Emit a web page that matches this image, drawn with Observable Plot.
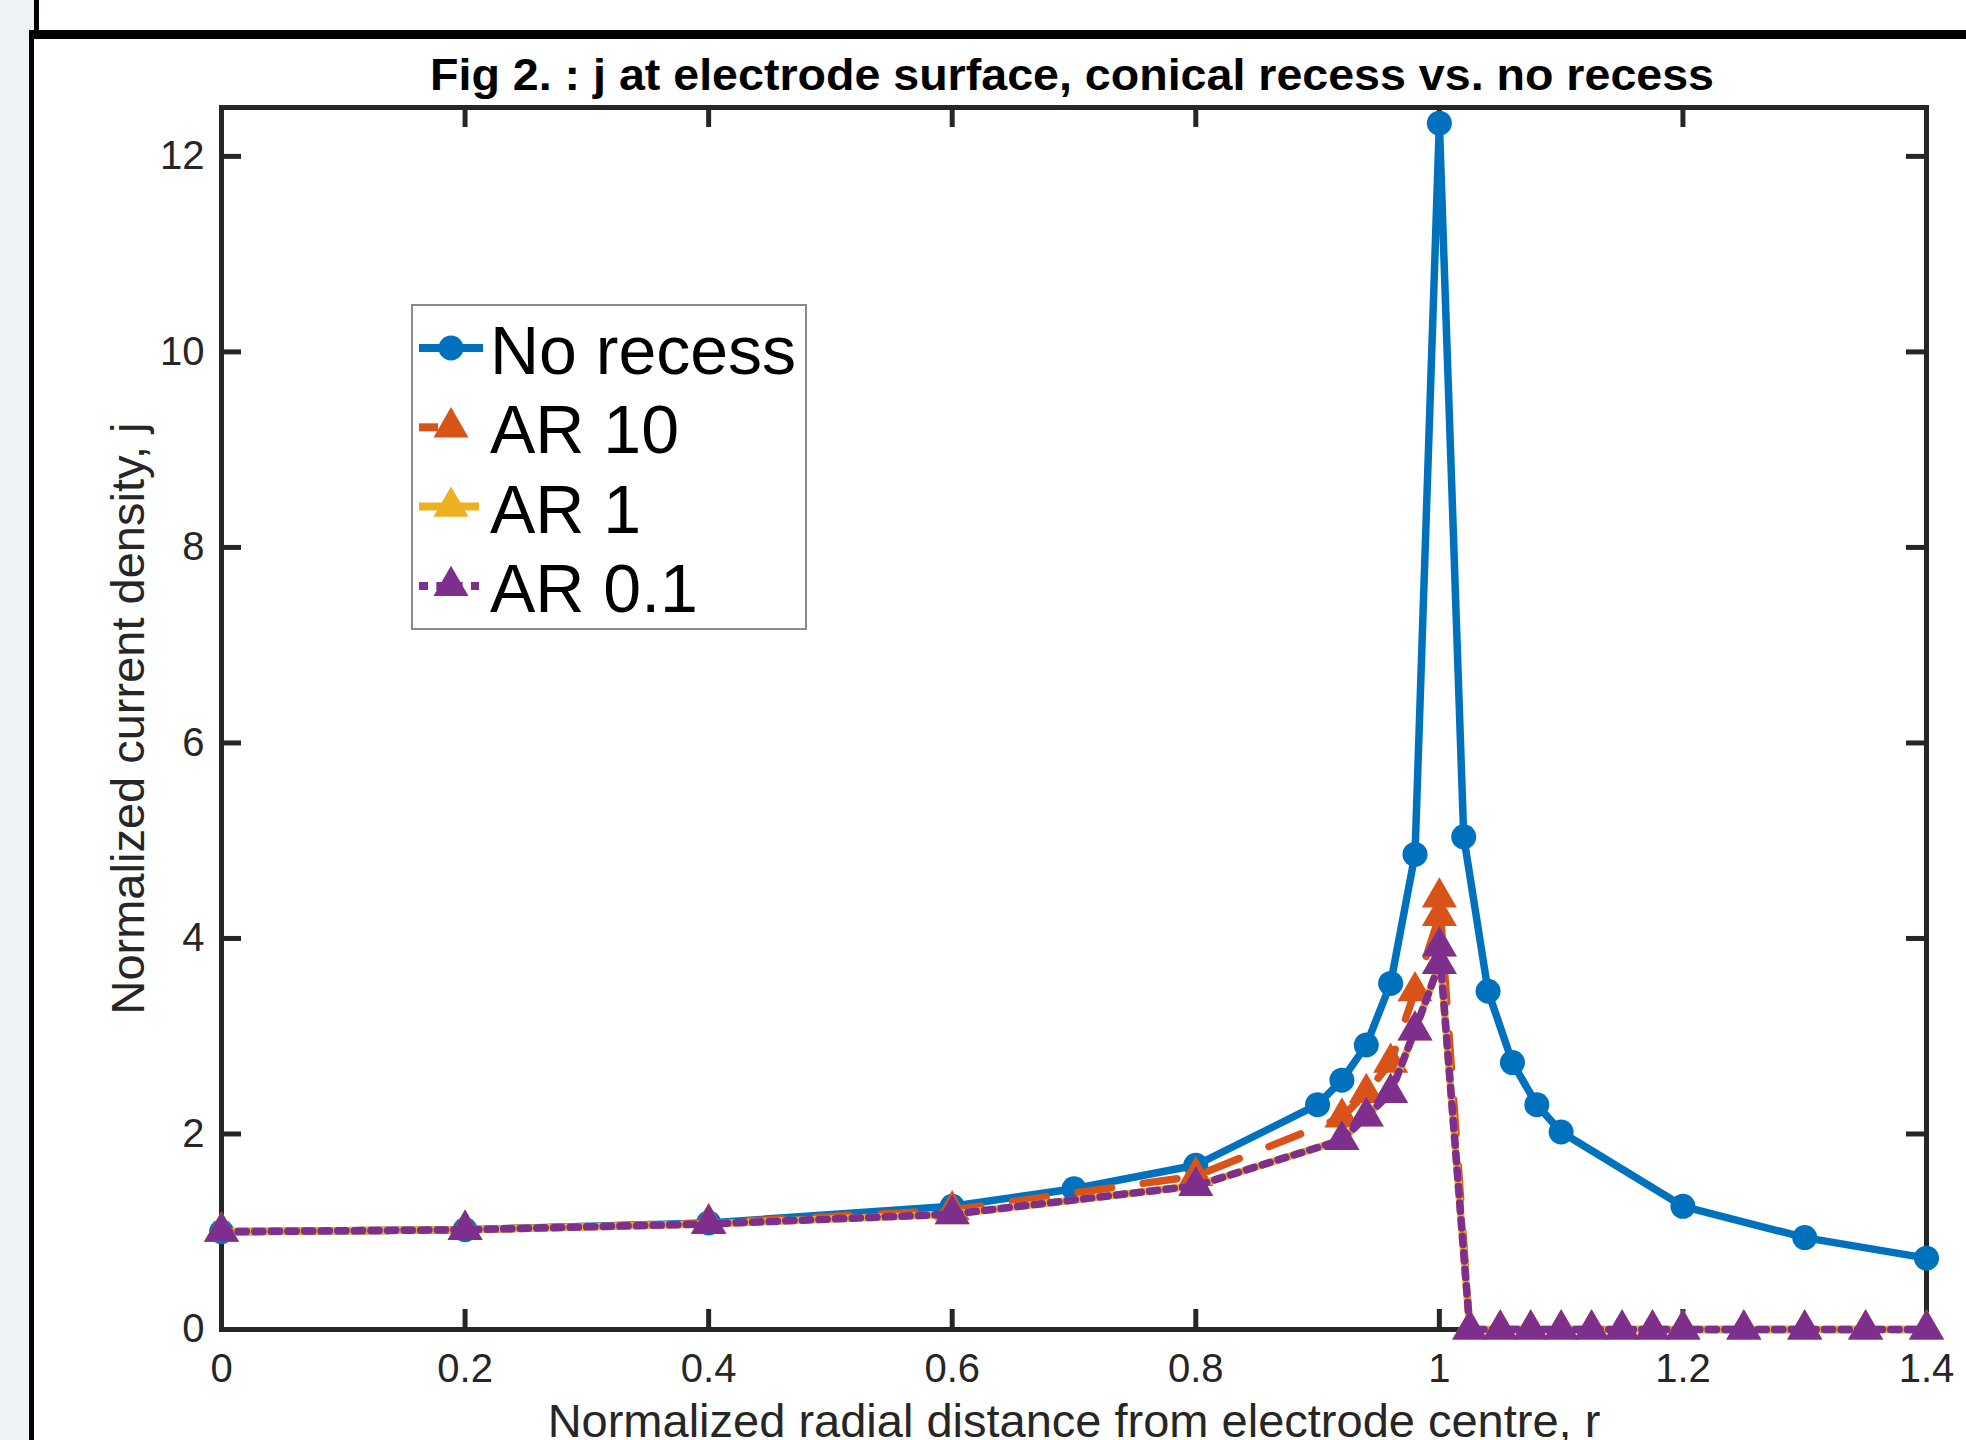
<!DOCTYPE html>
<html><head><meta charset="utf-8">
<script src="https://cdn.jsdelivr.net/npm/d3@7"></script>
<script src="https://cdn.jsdelivr.net/npm/@observablehq/plot@0.6"></script>
<style>
html,body{margin:0;padding:0;}
body{width:1966px;height:1440px;overflow:hidden;background:#fff;position:relative;font-family:"Liberation Sans",Arial,Helvetica,sans-serif;}
.abs{position:absolute;}
</style></head><body>
<div class="abs" style="left:0;top:0;width:34px;height:34px;background:#eef2f7"></div>
<div class="abs" style="left:0;top:0;width:29px;height:1440px;background:#eef2f7"></div>
<div class="abs" style="left:34px;top:0;width:5px;height:34px;background:#000"></div>
<div class="abs" style="left:29px;top:30px;width:1937px;height:9px;background:#000"></div>
<div class="abs" style="left:29px;top:34px;width:5px;height:1406px;background:#000"></div>
<div id="chart" class="abs" style="left:40px;top:40px"></div>
<div id="title" class="abs" style="left:0;top:0"></div>
<div id="legend" class="abs" style="left:411px;top:304px"></div>
<script>
// ---- data ----
const seriesNames = ["No recess", "AR 10", "AR 1", "AR 0.1"];
const seriesColors = ["#0072BD", "#D95319", "#EDB120", "#7E2F8E"];

const rNoRecess = [0, 0.2, 0.4, 0.6, 0.7, 0.8, 0.9, 0.92, 0.94, 0.96, 0.98, 1.0, 1.02, 1.04, 1.06, 1.08, 1.1, 1.2, 1.3, 1.4];
const jNoRecess = [1.0, 1.02, 1.09, 1.26, 1.44, 1.68, 2.30, 2.55, 2.91, 3.54, 4.86, 12.34, 5.04, 3.46, 2.73, 2.30, 2.02, 1.26, 0.94, 0.73];

const rAR = [0, 0.2, 0.4, 0.6, 0.8, 0.92, 0.94, 0.96, 0.98, 1.0, 1.0, 1.025, 1.05, 1.075, 1.1, 1.125, 1.15, 1.175, 1.2, 1.25, 1.3, 1.35, 1.4];
const jAR10 = [1.0, 1.02, 1.09, 1.22, 1.57, 2.17, 2.42, 2.73, 3.46, 4.23, 4.42, 0, 0, 0, 0, 0, 0, 0, 0, 0, 0, 0, 0];
const jAR1  = [1.0, 1.02, 1.08, 1.18, 1.47, 1.94, 2.18, 2.42, 3.06, 3.74, 3.92, 0, 0, 0, 0, 0, 0, 0, 0, 0, 0, 0, 0];
const jAR01 = [1.0, 1.02, 1.08, 1.18, 1.47, 1.94, 2.18, 2.42, 3.06, 3.74, 3.92, 0, 0, 0, 0, 0, 0, 0, 0, 0, 0, 0, 0];

const xTicks = [0, 0.2, 0.4, 0.6, 0.8, 1, 1.2, 1.4];
const yTicks = [0, 2, 4, 6, 8, 10, 12];

const titleText = "Fig 2. : j at electrode surface, conical recess vs. no recess";
const xLabel = "Normalized radial distance from electrode centre, r";
const yLabel = "Normalized current density, j";

// ---- chart ----
const FONT = '"Liberation Sans", Arial, Helvetica, sans-serif';
const W = 1926, H = 1400, mL = 181, mT = 67, mR = 40, mB = 111;
const plotW = W - mL - mR, plotH = H - mT - mB;
const tickLen = 20, axisColor = "#262626", axisW = 5;
const pts = (xs, ys) => xs.map((x, i) => ({x, y: ys[i]}));
const lw = 7.5;
const triR = 13, circR = 12.5;

const dNo = pts(rNoRecess, jNoRecess);
const d10 = pts(rAR, jAR10);
const d1 = pts(rAR, jAR1);
const d01 = pts(rAR, jAR01);

const chart = Plot.plot({
  width: W, height: H,
  marginLeft: mL, marginRight: mR, marginTop: mT, marginBottom: mB,
  x: {domain: [0, 1.4]},
  y: {domain: [0, 12.5]},
  style: {fontFamily: FONT, fontSize: "40px", color: axisColor, background: "transparent", overflow: "visible"},
  marks: [
    Plot.frame({stroke: axisColor, strokeWidth: axisW}),
    Plot.tickX(xTicks, {x: d => d, stroke: axisColor, strokeWidth: axisW, insetTop: plotH - tickLen}),
    Plot.tickX(xTicks, {x: d => d, stroke: axisColor, strokeWidth: axisW, insetBottom: plotH - tickLen}),
    Plot.tickY(yTicks, {y: d => d, stroke: axisColor, strokeWidth: axisW, insetRight: plotW - tickLen}),
    Plot.tickY(yTicks, {y: d => d, stroke: axisColor, strokeWidth: axisW, insetLeft: plotW - tickLen}),
    Plot.axisX({ticks: xTicks, tickSize: 0, tickPadding: 24, tickFormat: d => String(d), label: null, fontSize: 40, fill: axisColor}),
    Plot.axisY({ticks: yTicks, tickSize: 0, tickPadding: 17, tickFormat: d => String(d), label: null, fontSize: 40, fill: axisColor}),
    Plot.text([xLabel], {text: d => d, frameAnchor: "bottom", dy: 107, lineAnchor: "bottom", fontSize: 47, fill: axisColor}),
    Plot.text([yLabel], {text: d => d, frameAnchor: "left", rotate: -90, dx: -78, lineAnchor: "bottom", textAnchor: "middle", fontSize: 47, fill: axisColor}),

    Plot.line(dNo, {x: "x", y: "y", stroke: seriesColors[0], strokeWidth: lw, strokeLinejoin: "round"}),
    Plot.dot(dNo, {x: "x", y: "y", r: circR, fill: seriesColors[0]}),
    Plot.line(d10, {x: "x", y: "y", stroke: seriesColors[1], strokeWidth: lw, strokeDasharray: "34,32"}),
    Plot.dot(d10, {x: "x", y: "y", symbol: "triangle", r: triR, fill: seriesColors[1]}),
    Plot.line(d1, {x: "x", y: "y", stroke: seriesColors[2], strokeWidth: lw}),
    Plot.dot(d1, {x: "x", y: "y", symbol: "triangle", r: triR, fill: seriesColors[2]}),
    Plot.line(d01, {x: "x", y: "y", stroke: seriesColors[3], strokeWidth: lw, strokeDasharray: "8.3,8.3"}),
    Plot.dot(d01, {x: "x", y: "y", symbol: "triangle", r: triR, fill: seriesColors[3]})
  ]
});
document.getElementById("chart").appendChild(chart);

// ---- title ----
const tsvg = d3.create("svg").attr("width", 1966).attr("height", 110).style("overflow", "visible");
tsvg.append("text")
  .attr("x", 1072).attr("y", 90)
  .attr("text-anchor", "middle")
  .attr("font-family", FONT).attr("font-weight", "bold").attr("font-size", 44)
  .attr("textLength", 1284).attr("lengthAdjust", "spacingAndGlyphs")
  .attr("fill", "#000")
  .text(titleText);
document.getElementById("title").appendChild(tsvg.node());

// ---- legend ----
const LW = 396, LH = 326;
const lg = d3.create("svg").attr("width", LW).attr("height", LH);
lg.append("rect").attr("x", 1).attr("y", 1).attr("width", LW - 2).attr("height", LH - 2)
  .attr("fill", "#fff").attr("stroke", "#8a8a8a").attr("stroke-width", 2);
const triPath = d3.symbol(d3.symbolTriangle, Math.PI * triR * triR)();
const rowY = [44, 123.3, 202.6, 281.9];
const legendStyles = [
  {x2: 72, dash: null, marker: "circle"},
  {x2: 72, dash: "19,200", marker: "triangle"},
  {x2: 68, dash: null, marker: "triangle"},
  {x2: 68, dash: "9,8.3", marker: "triangle"}
];
seriesNames.forEach((name, i) => {
  const y = rowY[i], st = legendStyles[i];
  const ln = lg.append("line").attr("x1", 8).attr("x2", st.x2).attr("y1", y).attr("y2", y)
    .attr("stroke", seriesColors[i]).attr("stroke-width", 8);
  if (st.dash) ln.attr("stroke-dasharray", st.dash);
  if (st.marker === "circle") {
    lg.append("circle").attr("cx", 40).attr("cy", y).attr("r", circR).attr("fill", seriesColors[i]);
  } else {
    lg.append("path").attr("d", triPath).attr("transform", `translate(40,${y})`).attr("fill", seriesColors[i]);
  }
  lg.append("text").attr("x", 79).attr("y", y + 26)
    .attr("font-family", FONT).attr("font-size", 68).attr("fill", "#000").text(name);
});
document.getElementById("legend").appendChild(lg.node());
</script>
</body></html>
